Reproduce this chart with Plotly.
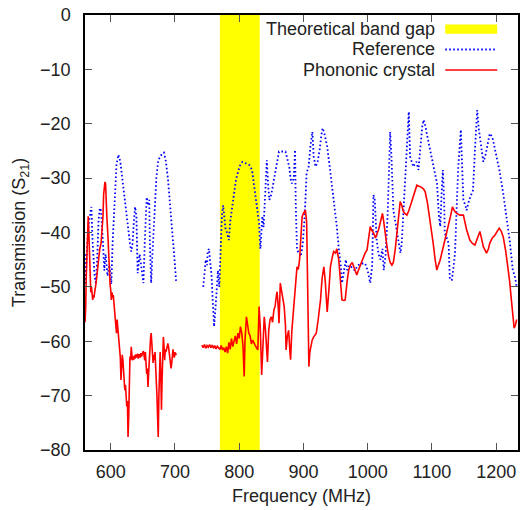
import plotly.graph_objects as go

# ---------------- data ----------------
ref_freq = [560, 561, 563, 566, 570, 572, 575, 577, 579, 581, 583, 585, 588, 590, 592, 595, 598,
            601, 603, 606, 609, 612, 615, 618, 622, 626, 630, 632, 634, 636, 638, 640, 642, 645,
            648, 651, 653, 655, 656, 658, 660, 661, 663, 665, 668, 671, 674, 677, 680, 683, 686,
            689, 692, 695, 698, 702, 720,
            744, 746, 748, 750, 751, 753, 755, 757, 759, 761, 763, 765, 767, 769, 771, 773, 775,
            777, 779, 781, 784, 786, 789, 792, 795, 799, 802, 805, 809, 813, 816, 820, 823, 826,
            829, 831, 833, 835, 836, 838, 841, 843, 845, 847, 850, 853, 857, 860, 862, 867, 872,
            875, 878, 880, 882, 885, 887, 888, 890, 893, 896, 899, 902, 905, 908, 911, 914, 916,
            919, 922, 925, 928, 930, 933, 937, 941, 945, 948, 952, 955, 958, 960, 963, 966, 968,
            972, 976, 980, 985, 991, 996, 1000, 1004, 1007, 1009, 1011, 1014, 1017, 1020, 1023,
            1025, 1028, 1031, 1035, 1037, 1040, 1043, 1045, 1048, 1051, 1053, 1056, 1058, 1061,
            1064, 1066, 1069, 1071, 1074, 1076, 1079, 1082, 1085, 1087, 1090, 1092, 1096, 1100,
            1104, 1108, 1111, 1113, 1115, 1117, 1119, 1120, 1123, 1126, 1128, 1131, 1133, 1136,
            1138, 1141, 1145, 1149, 1152, 1154, 1158, 1161, 1164, 1167, 1170.5, 1173, 1176, 1180,
            1183, 1187, 1190, 1194, 1197, 1200.5, 1205, 1211, 1216, 1221, 1226, 1229, 1232]
ref_s21 = [-44, -50, -43, -38, -35.3, -42, -48, -49.5, -45, -38, -35.5, -36, -42, -47, -44, -48, -46,
           -49.5, -42, -33, -27.5, -25.7, -27, -30, -34, -39, -42, -43.5, -42, -38, -35.3, -37, -47.5, -44,
           -47, -49.3, -42, -36, -33.5, -35, -34, -42, -49.3, -44, -36, -30, -26.7, -26, -25.5, -25.3, -27,
           -30, -34, -38, -43, -49.3, None,
           -50, -47, -45, -46, -43.5, -43, -46, -48, -53, -57.3, -54, -50, -47, -50, -44, -37, -35,
           -37, -39.5, -40, -41.4, -38, -35.3, -32, -30.3, -28.5, -27.5, -27, -27.2, -27.5, -27.6, -28.5, -31, -33.4,
           -36, -38.3, -43, -40, -37, -39, -29.7, -26.7, -31, -34, -33, -31, -28.5, -26, -25.1, -25.1, -25.1,
           -26.5, -28, -30, -31, -30, -24.8, -34.5, -43.2, -43.8, -44.4, -42, -37, -29, -28, -24, -21.5, -26,
           -27.9, -27, -25, -22, -20.8, -22, -24.2, -28, -31.6, -35, -38.9, -43, -46, -49.3, -47, -45, -46.9,
           -46, -46.5, -47, -46, -45.7, -45.7, -47, -49.3, -46, -33.1, -34, -41.4, -44, -45, -43,
           -46.9, -44, -37, -21.5, -26, -35.9, -38, -39.5, -42, -43.8, -42, -36, -29.7, -24,
           -17.8, -26, -27.5, -27.9, -27.3, -27, -28.5, -24, -20.5, -19.3, -20.5, -21.8, -24, -26.7,
           -29, -31, -37.1, -38.9, -33, -28.5, -34, -40.1, -41, -42, -48.7, -48.7, -47, -43.8,
           -37.1, -27.9, -21.1, -34, -35, -35.9, -34, -33, -32.2, -24.8, -17.5, -21, -23.6, -27,
           -26, -23.5, -21.8, -22.4, -24, -26, -28.5, -32.8, -37, -41.4, -47, -48, -50]

pc_freq = [560, 561, 562, 563, 564, 565, 566, 567, 568, 569, 570, 571, 572, 573, 574, 575, 576, 577,
           578, 580, 581, 583, 585, 586, 588, 589, 590, 591, 592, 593, 594, 596, 597, 598, 599, 600,
           601, 602, 603, 604, 605, 606, 607, 608, 609, 610, 611, 612, 613, 614, 615, 616, 617, 618,
           619, 620, 621, 622, 623, 624, 625, 626, 627, 628, 629, 630, 631, 632, 633, 634, 635, 636,
           637, 638, 639, 640, 641, 642, 643, 644, 645, 646, 647, 648, 649, 650, 651, 652, 653, 654,
           655, 656, 657, 658, 659, 660, 661, 662, 663, 664, 665, 666, 667, 668, 669, 670, 671, 672,
           673, 674, 675, 676, 677, 678, 679, 680, 681, 682, 683, 684, 685, 686, 687, 688, 689, 690,
           691, 692, 693, 694, 695, 696, 697, 698, 699, 700, 701, 702, 720,
           742, 744, 746, 748, 750, 752, 754, 756, 758, 760, 762, 764, 766, 768, 770, 772, 774, 776,
           778, 780, 782, 784, 786, 788, 790, 792, 794, 796, 798, 800, 802, 804, 806, 807.8, 809,
           811.3, 813, 815, 817, 819, 821, 823, 825, 827, 829, 831, 833, 835, 837, 839, 841, 843,
           844, 846, 848, 850, 852, 854, 856, 858, 859, 861, 862, 864, 866, 868, 870, 872, 873, 875,
           877, 879, 880, 882, 884, 885, 887, 888, 890, 892, 894, 896, 898, 900, 903, 905, 907,
           908.5, 910, 913.6, 916, 920, 923, 926.6, 929, 931.8, 934, 937, 940, 942, 945, 947, 950,
           952, 955, 957, 960, 963, 965, 968, 970.5, 973, 976, 979, 983, 987, 991, 996, 999, 1002,
           1004, 1006, 1009.3, 1012, 1014, 1017, 1020, 1023, 1025, 1027, 1030, 1032.6, 1035, 1037.7,
           1040, 1043, 1046, 1048, 1050.6, 1053, 1055.8, 1058, 1061, 1064, 1068.7, 1072, 1076.6,
           1080, 1084, 1087, 1089.5, 1093, 1097, 1100, 1102, 1105, 1107.6, 1110, 1112.7, 1116,
           1120.5, 1125.6, 1129, 1132, 1135, 1138.6, 1143.7, 1149, 1152, 1154, 1159, 1163, 1167,
           1171, 1174.7, 1177, 1180, 1185, 1188, 1190, 1194, 1198, 1202, 1204.7, 1208, 1211, 1215,
           1218.6, 1221, 1223.7, 1226, 1228, 1230, 1232]
pc_s21 = [-56.5, -54, -48, -42, -38.5, -37, -40, -45, -49, -51, -50, -52, -52.4, -51.5, -52, -51, -50.5, -49.5,
          -48.5, -46, -44.4, -43, -42, -40.8, -37, -33, -31.5, -30.7, -31, -33, -37, -41.4, -45, -48, -49.5, -50.5,
          -52.4, -51, -52, -51.5, -52.8, -53.6, -55, -56.5, -58.5, -56, -57.5, -59, -60.5, -61.6, -63, -67.1, -64, -62.5,
          -63.5, -66, -67.5, -69, -68, -70, -72, -71, -77.6, -74, -68, -62.8, -63.5, -61, -62.5, -63.5, -62.8, -63.4,
          -62.6, -63.2, -62.4, -63, -62.7, -62.3, -63.2, -62.4, -62.5, -63, -62.2, -62.8, -62.2, -62, -61.8, -62.6, -63.5, -62,
          -64, -66, -65, -68.4, -66, -63, -61, -59.5, -58.5, -60, -62, -64, -62.5, -63.5, -62, -64, -66.5, -70,
          -74, -77.6, -70, -64, -62, -66, -72.6, -67, -61, -59.2, -61, -63.5, -61.5, -62, -61.5, -60.8, -60.4, -61,
          -62, -63.5, -64.5, -65, -64, -62.5, -61.5, -62.5, -63, -62, -62.6, -62.2, None,
          -60.7, -61.2, -60.6, -61.3, -60.8, -61.1, -60.6, -61.2, -60.7, -61.3, -60.8, -61.4, -60.9, -61.2, -61.5, -60.8, -61.6, -61.2,
          -62, -61, -62.2, -60.2, -61.5, -59.5, -61, -60, -59, -60.5, -58.5, -59.5, -57.3, -58.5, -61, -66.5, -60,
          -55.5, -57, -58.5, -59, -60.5, -59.8, -60.5, -60.8, -61.2, -61.6, -53.6, -58, -66.2, -60, -55.5, -58, -62,
          -63.8, -58, -56, -55.5, -56.5, -54.3, -53.5, -51.5, -50.9, -54, -56.7, -49.3, -51, -52.5, -53.6, -57, -61.6, -59,
          -58, -62, -63.4, -58, -55, -53.6, -50, -48.7, -46.3, -46.8, -45, -41, -37.1, -36.5, -35.9, -38, -50.6,
          -64.7, -62, -59.8, -59.2, -58.5, -56, -52.4, -48.5, -46.3, -49, -54.6, -50, -46.3, -44.5, -43.5, -43.8,
          -43, -45, -48, -52.4, -52.5, -52.4, -49, -46.9, -46, -45.5, -46.5, -47.8, -46.5, -45.2, -43.8, -43.2, -41,
          -38.9, -39.5, -40.1, -41, -40.4, -39.5, -38, -36.5, -38, -40.1, -42.5, -44.4, -45.5, -46,
          -45.5, -43, -39.5, -37.7, -34.3, -35, -36.2, -36.5, -36.8, -36, -34.3, -33, -31.3,
          -31.5, -31.7, -32, -32.5, -34.5, -37.7, -40, -42, -45, -46.9, -46, -45.1, -43.5,
          -41.4, -38.9, -37, -35.3, -36, -36.5, -36.8, -36.8, -38.5, -39.5, -41.4, -42, -42.3,
          -41, -39.8, -41, -42.6, -43.8, -43, -42, -41, -40.5, -39.6, -39.2, -39.8, -40.8, -43.5,
          -46.3, -49, -52.4, -55.5, -57.6, -57, -56]

gap_start = 770   # theoretical band gap, MHz
gap_end = 832

x_ticks = [600, 700, 800, 900, 1000, 1100, 1200]
y_ticks = [0, -10, -20, -30, -40, -50, -60, -70, -80]

legend_labels = ["Theoretical band gap", "Reference", "Phononic crystal"]

# ---------------- figure ----------------
FONT = "Liberation Sans, Arial, Helvetica, sans-serif"
TXT = "#222222"
FS = 18
DOT = "1.6px,2.4px"

fig = go.Figure()

fig.add_shape(type="rect", xref="x", yref="y", x0=gap_start, x1=gap_end, y0=-80, y1=0,
              fillcolor="#ffff00", line=dict(width=0), layer="below")

fig.add_trace(go.Scatter(x=ref_freq, y=ref_s21, mode="lines", name=legend_labels[1],
                         line=dict(color="#0000ff", width=1.8, dash=DOT),
                         connectgaps=False, showlegend=False))
fig.add_trace(go.Scatter(x=pc_freq, y=pc_s21, mode="lines", name=legend_labels[2],
                         line=dict(color="#ff0000", width=1.6),
                         connectgaps=False, showlegend=False))

# manual gnuplot-style legend (text left of sample)
leg_y = [0.9678, 0.9207, 0.8736]
for lbl, yy in zip(legend_labels, leg_y):
    fig.add_annotation(xref="paper", yref="paper", x=0.81, y=yy, text=lbl, showarrow=False,
                       xanchor="right", yanchor="middle", borderpad=0,
                       font=dict(family=FONT, size=FS, color=TXT))
fig.add_shape(type="rect", xref="paper", yref="paper", x0=0.832, x1=0.952, y0=0.957, y1=0.978,
              fillcolor="#ffff00", line=dict(width=0))
fig.add_shape(type="line", xref="paper", yref="paper", x0=0.832, x1=0.952, y0=leg_y[1], y1=leg_y[1],
              line=dict(color="#0000ff", width=1.8, dash=DOT))
fig.add_shape(type="line", xref="paper", yref="paper", x0=0.832, x1=0.952, y0=leg_y[2], y1=leg_y[2],
              line=dict(color="#ff0000", width=1.6))

axis_common = dict(showgrid=False, zeroline=False, showline=True, linecolor="black", linewidth=1.5,
                   mirror="ticks", ticks="inside", ticklen=7, tickwidth=1, tickcolor="#555555",
                   tickfont=dict(family=FONT, size=FS, color=TXT))

fig.update_layout(
    width=522, height=510,
    margin=dict(l=85, r=2, t=15, b=60),
    plot_bgcolor="white", paper_bgcolor="white",
    xaxis=dict(range=[560, 1234], tickvals=x_ticks, ticklabelstandoff=5,
               title=dict(text="Frequency (MHz)", font=dict(family=FONT, size=FS, color=TXT), standoff=8),
               **axis_common),
    yaxis=dict(range=[-80, 0], tickvals=y_ticks, ticklabelstandoff=9,
               title=dict(text="Transmission (S<sub>21</sub>)", font=dict(family=FONT, size=FS, color=TXT), standoff=10),
               **axis_common),
)

fig.write_html("out.html", config={"displayModeBar": False},
               post_script="document.body.style.margin='0';document.body.style.overflow='hidden';")
